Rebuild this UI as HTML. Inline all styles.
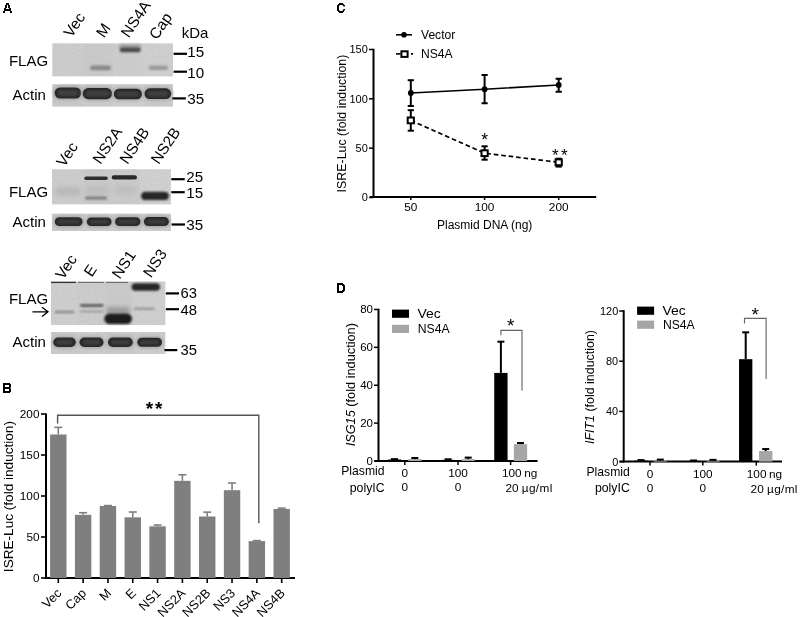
<!DOCTYPE html>
<html><head><meta charset="utf-8"><style>
html,body{margin:0;padding:0;background:#fff;}
svg{display:block;font-family:"Liberation Sans", sans-serif;will-change:transform;}
</style></head><body>
<svg width="800" height="617" viewBox="0 0 800 617">
<defs>
<filter id="b5" x="-20%" y="-50%" width="140%" height="200%"><feGaussianBlur stdDeviation="0.5"/></filter>
<filter id="b6" x="-20%" y="-50%" width="140%" height="200%"><feGaussianBlur stdDeviation="0.6"/></filter>
<filter id="b7" x="-20%" y="-50%" width="140%" height="200%"><feGaussianBlur stdDeviation="0.7"/></filter>
<filter id="b8" x="-20%" y="-50%" width="140%" height="200%"><feGaussianBlur stdDeviation="0.8"/></filter>
<filter id="b9" x="-20%" y="-50%" width="140%" height="200%"><feGaussianBlur stdDeviation="0.9"/></filter>
<filter id="b10" x="-20%" y="-50%" width="140%" height="200%"><feGaussianBlur stdDeviation="1.0"/></filter>
<filter id="b12" x="-20%" y="-50%" width="140%" height="200%"><feGaussianBlur stdDeviation="1.2"/></filter>
<filter id="b15" x="-20%" y="-50%" width="140%" height="200%"><feGaussianBlur stdDeviation="1.5"/></filter>
<filter id="b20" x="-30%" y="-80%" width="160%" height="260%"><feGaussianBlur stdDeviation="2.0"/></filter>
<filter id="b25" x="-30%" y="-80%" width="160%" height="260%"><feGaussianBlur stdDeviation="2.5"/></filter>
<filter id="noise" x="0" y="0" width="100%" height="100%">
<feTurbulence type="fractalNoise" baseFrequency="0.6" numOctaves="1" seed="5" result="t"/>
<feColorMatrix in="t" type="matrix" values="0 0 0 0 0  0 0 0 0 0  0 0 0 0 0  0 0 0 -0.12 0.07" result="n"/>
<feComposite in="n" in2="SourceGraphic" operator="in"/>
</filter>
</defs>
<path transform="translate(0 0)" fill="#000" fill-rule="evenodd" d="M6 3H9V5H10V8H11V11H12V13H10V11H5V13H3V11H4V8H5V5H6Z M7 5V8H6V9H9V8H8V5Z"/>
<path transform="translate(0 378)" fill="#000" fill-rule="evenodd" d="M3 5H10V6H11V9.3H10.4V10.4H11V14H10V15H3Z M5 7H9V9H5Z M5 11H9V13H5Z"/>
<path transform="translate(330 0)" fill="#000" fill-rule="evenodd" d="M9 3H13V4H14V5H15V6.6H13.3V5.6H12.5V5H9.5V6H9V10H9.5V11H12.5V10.3H13.3V9H15V10.6H14V12H13V13H9V12H8V11H7V5H8V4H9Z"/>
<path transform="translate(330 278)" fill="#000" fill-rule="evenodd" d="M7 5H13V6H14V7H15V13H14V14H13V15H7Z M9 7H12V8H13V12H12V13H9Z"/>
<rect x="52.5" y="43.6" width="120.5" height="32.6" fill="#cdcdcd"/>
<rect x="52.5" y="43.6" width="30.5" height="32.6" fill="#cdcdcd"/>
<rect x="83" y="43.6" width="30" height="32.6" fill="#cbcbcb"/>
<rect x="113" y="43.6" width="30" height="32.6" fill="#cecece"/>
<rect x="143" y="43.6" width="30" height="32.6" fill="#d0d0d0"/>
<rect x="52.5" y="43.6" width="120.5" height="32.6" fill="#000" filter="url(#noise)"/>
<rect x="119" y="44.5" width="22" height="4" rx="2.0" ry="2.0" fill="#9a9a9a" filter="url(#b15)"/>
<rect x="119.7" y="47.6" width="21" height="4.6" rx="2.3" ry="2.3" fill="#484848" filter="url(#b9)"/>
<rect x="90" y="65.6" width="21" height="4.6" rx="2.3" ry="2.3" fill="#888" filter="url(#b10)"/>
<rect x="148.6" y="65.6" width="19.5" height="4.4" rx="2.2" ry="2.2" fill="#9a9a9a" filter="url(#b10)"/>
<rect x="52.5" y="84.4" width="120.5" height="22.0" fill="#cdcdcd"/>
<rect x="52.5" y="84.4" width="29.5" height="22.0" fill="#c9c9c9"/>
<rect x="82" y="84.4" width="31" height="22.0" fill="#cccccc"/>
<rect x="113" y="84.4" width="30" height="22.0" fill="#cfcfcf"/>
<rect x="143" y="84.4" width="30" height="22.0" fill="#cbcbcb"/>
<rect x="52.5" y="84.4" width="120.5" height="22.0" fill="#000" filter="url(#noise)"/>
<rect x="53.1" y="86.0" width="29.6" height="14" rx="7.0" ry="7.0" fill="#a8a8a8" filter="url(#b15)"/>
<rect x="54.6" y="87.5" width="26.6" height="11" rx="5.5" ry="5.5" fill="#2a2a2a" filter="url(#b7)"/>
<rect x="57.6" y="90.1" width="20.6" height="5.8" rx="2.9" ry="2.9" fill="#3f3f3f" filter="url(#b10)"/>
<rect x="81.2" y="86.5" width="32.4" height="14.2" rx="7.1" ry="7.1" fill="#a8a8a8" filter="url(#b15)"/>
<rect x="82.7" y="88" width="29.4" height="11.2" rx="5.6" ry="5.6" fill="#2a2a2a" filter="url(#b7)"/>
<rect x="85.7" y="90.6" width="23.4" height="5.999999999999999" rx="2.9999999999999996" ry="2.9999999999999996" fill="#3f3f3f" filter="url(#b10)"/>
<rect x="112.3" y="87.3" width="31.2" height="13.4" rx="6.7" ry="6.7" fill="#a8a8a8" filter="url(#b15)"/>
<rect x="113.8" y="88.8" width="28.2" height="10.4" rx="5.2" ry="5.2" fill="#2a2a2a" filter="url(#b7)"/>
<rect x="116.8" y="91.39999999999999" width="22.2" height="5.2" rx="2.6" ry="2.6" fill="#3f3f3f" filter="url(#b10)"/>
<rect x="143.0" y="86.8" width="29.7" height="13.8" rx="6.9" ry="6.9" fill="#a8a8a8" filter="url(#b15)"/>
<rect x="144.5" y="88.3" width="26.7" height="10.8" rx="5.4" ry="5.4" fill="#2a2a2a" filter="url(#b7)"/>
<rect x="147.5" y="90.89999999999999" width="20.7" height="5.6000000000000005" rx="2.8000000000000003" ry="2.8000000000000003" fill="#3f3f3f" filter="url(#b10)"/>
<rect x="52" y="169.5" width="119" height="34.69999999999999" fill="#cdcdcd"/>
<rect x="52" y="169.5" width="31.599999999999994" height="34.69999999999999" fill="#cdcdcd"/>
<rect x="83.6" y="169.5" width="26.400000000000006" height="34.69999999999999" fill="#cacaca"/>
<rect x="110" y="169.5" width="29.80000000000001" height="34.69999999999999" fill="#cccccc"/>
<rect x="139.8" y="169.5" width="31.19999999999999" height="34.69999999999999" fill="#d1d1d1"/>
<rect x="52" y="169.5" width="119" height="34.69999999999999" fill="#000" filter="url(#noise)"/>
<rect x="55" y="187" width="26" height="9" rx="4.5" ry="4.5" fill="#b9b9b9" filter="url(#b25)"/>
<rect x="86" y="186" width="22" height="8" rx="4.0" ry="4.0" fill="#bdbdbd" filter="url(#b25)"/>
<rect x="114" y="186" width="22" height="8" rx="4.0" ry="4.0" fill="#bdbdbd" filter="url(#b25)"/>
<rect x="84.3" y="176.4" width="23.5" height="3.6" rx="1.8" ry="1.8" fill="#2e2e2e" filter="url(#b7)"/>
<rect x="111.7" y="175.3" width="25.3" height="4.2" rx="2.1" ry="2.1" fill="#2a2a2a" filter="url(#b7)"/>
<rect x="85" y="196.4" width="22" height="3.2" rx="1.6" ry="1.6" fill="#7a7a7a" filter="url(#b9)"/>
<rect x="141" y="191.8" width="28" height="8.3" rx="4.15" ry="4.15" fill="#262626" filter="url(#b9)"/>
<rect x="52" y="213.8" width="119" height="17.19999999999999" fill="#cdcdcd"/>
<rect x="52" y="213.8" width="32" height="17.19999999999999" fill="#cbcbcb"/>
<rect x="84" y="213.8" width="28.5" height="17.19999999999999" fill="#cdcdcd"/>
<rect x="112.5" y="213.8" width="29.0" height="17.19999999999999" fill="#cbcbcb"/>
<rect x="141.5" y="213.8" width="29.5" height="17.19999999999999" fill="#cecece"/>
<rect x="52" y="213.8" width="119" height="17.19999999999999" fill="#000" filter="url(#noise)"/>
<rect x="53.3" y="215.8" width="30.8" height="11.8" rx="5.9" ry="5.9" fill="#a8a8a8" filter="url(#b15)"/>
<rect x="54.8" y="217.3" width="27.8" height="8.8" rx="4.4" ry="4.4" fill="#2a2a2a" filter="url(#b7)"/>
<rect x="57.8" y="219.9" width="21.8" height="3.6000000000000005" rx="1.8000000000000003" ry="1.8000000000000003" fill="#3f3f3f" filter="url(#b10)"/>
<rect x="85.3" y="216.0" width="27.8" height="11.6" rx="5.8" ry="5.8" fill="#a8a8a8" filter="url(#b15)"/>
<rect x="86.8" y="217.5" width="24.8" height="8.6" rx="4.3" ry="4.3" fill="#2a2a2a" filter="url(#b7)"/>
<rect x="89.8" y="220.1" width="18.8" height="3.3999999999999995" rx="1.6999999999999997" ry="1.6999999999999997" fill="#3f3f3f" filter="url(#b10)"/>
<rect x="113.6" y="215.8" width="28.3" height="11.8" rx="5.9" ry="5.9" fill="#a8a8a8" filter="url(#b15)"/>
<rect x="115.1" y="217.3" width="25.3" height="8.8" rx="4.4" ry="4.4" fill="#2a2a2a" filter="url(#b7)"/>
<rect x="118.1" y="219.9" width="19.3" height="3.6000000000000005" rx="1.8000000000000003" ry="1.8000000000000003" fill="#3f3f3f" filter="url(#b10)"/>
<rect x="142.4" y="215.6" width="28" height="12" rx="6.0" ry="6.0" fill="#a8a8a8" filter="url(#b15)"/>
<rect x="143.9" y="217.1" width="25" height="9" rx="4.5" ry="4.5" fill="#2a2a2a" filter="url(#b7)"/>
<rect x="146.9" y="219.7" width="19" height="3.8" rx="1.9" ry="1.9" fill="#3f3f3f" filter="url(#b10)"/>
<rect x="51" y="281.7" width="114.19999999999999" height="43.30000000000001" fill="#cdcdcd"/>
<rect x="51" y="281.7" width="26" height="43.30000000000001" fill="#cfcfcf"/>
<rect x="77" y="281.7" width="29" height="43.30000000000001" fill="#cdcdcd"/>
<rect x="106" y="281.7" width="25" height="43.30000000000001" fill="#cbcbcb"/>
<rect x="131" y="281.7" width="34.19999999999999" height="43.30000000000001" fill="#d0d0d0"/>
<rect x="51" y="281.7" width="114.19999999999999" height="43.30000000000001" fill="#000" filter="url(#noise)"/>
<line x1="51" y1="282.4" x2="76" y2="282.4" stroke="#333" stroke-width="1.3"/>
<line x1="78" y1="282.4" x2="104" y2="282.4" stroke="#666" stroke-width="1.0"/>
<line x1="106" y1="282.4" x2="128" y2="282.4" stroke="#666" stroke-width="1.0"/>
<rect x="54.7" y="310.8" width="19.6" height="2.5" rx="1.25" ry="1.25" fill="#8a8a8a" filter="url(#b8)"/>
<rect x="80" y="304.1" width="23.5" height="2.8" rx="1.4" ry="1.4" fill="#606060" filter="url(#b8)"/>
<rect x="80" y="310.4" width="23.5" height="2.2" rx="1.1" ry="1.1" fill="#999" filter="url(#b8)"/>
<rect x="106" y="307" width="24" height="7" rx="3.5" ry="3.5" fill="#9a9a9a" filter="url(#b20)"/>
<rect x="104.3" y="313.4" width="27.7" height="10.6" rx="5.3" ry="5.3" fill="#1e1e1e" filter="url(#b9)"/>
<rect x="131.5" y="283.3" width="28.5" height="7.5" rx="3.75" ry="3.75" fill="#262626" filter="url(#b9)"/>
<rect x="133.8" y="307.4" width="21" height="2.6" rx="1.3" ry="1.3" fill="#999" filter="url(#b9)"/>
<rect x="51" y="332" width="114.19999999999999" height="22" fill="#cdcdcd"/>
<rect x="51" y="332" width="27" height="22" fill="#cbcbcb"/>
<rect x="78" y="332" width="28" height="22" fill="#cdcdcd"/>
<rect x="106" y="332" width="29" height="22" fill="#cacaca"/>
<rect x="135" y="332" width="30.19999999999999" height="22" fill="#cdcdcd"/>
<rect x="51" y="332" width="114.19999999999999" height="22" fill="#000" filter="url(#noise)"/>
<rect x="51.8" y="336.0" width="25.5" height="12.5" rx="6.25" ry="6.25" fill="#a8a8a8" filter="url(#b15)"/>
<rect x="53.3" y="337.5" width="22.5" height="9.5" rx="4.75" ry="4.75" fill="#2a2a2a" filter="url(#b7)"/>
<rect x="56.3" y="340.1" width="16.5" height="4.3" rx="2.15" ry="2.15" fill="#3f3f3f" filter="url(#b10)"/>
<rect x="78.0" y="336.0" width="27" height="12.5" rx="6.25" ry="6.25" fill="#a8a8a8" filter="url(#b15)"/>
<rect x="79.5" y="337.5" width="24" height="9.5" rx="4.75" ry="4.75" fill="#2a2a2a" filter="url(#b7)"/>
<rect x="82.5" y="340.1" width="18" height="4.3" rx="2.15" ry="2.15" fill="#3f3f3f" filter="url(#b10)"/>
<rect x="106.5" y="336.1" width="27.8" height="12.3" rx="6.15" ry="6.15" fill="#a8a8a8" filter="url(#b15)"/>
<rect x="108" y="337.6" width="24.8" height="9.3" rx="4.65" ry="4.65" fill="#2a2a2a" filter="url(#b7)"/>
<rect x="111" y="340.20000000000005" width="18.8" height="4.1000000000000005" rx="2.0500000000000003" ry="2.0500000000000003" fill="#3f3f3f" filter="url(#b10)"/>
<rect x="135.8" y="336.3" width="27.7" height="12" rx="6.0" ry="6.0" fill="#a8a8a8" filter="url(#b15)"/>
<rect x="137.3" y="337.8" width="24.7" height="9" rx="4.5" ry="4.5" fill="#2a2a2a" filter="url(#b7)"/>
<rect x="140.3" y="340.40000000000003" width="18.7" height="3.8" rx="1.9" ry="1.9" fill="#3f3f3f" filter="url(#b10)"/>
<text x="8.9" y="65.9" font-size="15" text-anchor="start" fill="#000">FLAG</text>
<text x="8.9" y="197.4" font-size="15" text-anchor="start" fill="#000">FLAG</text>
<text x="8.9" y="303.8" font-size="15" text-anchor="start" fill="#000">FLAG</text>
<text x="12.6" y="99.5" font-size="15" text-anchor="start" fill="#000">Actin</text>
<text x="12.6" y="227.4" font-size="15" text-anchor="start" fill="#000">Actin</text>
<text x="12.6" y="346.8" font-size="15" text-anchor="start" fill="#000">Actin</text>
<path d="M32.4 311.8 H48 M42 307.2 L48 311.8 L42 316.4" stroke="#000" stroke-width="1.3" fill="none"/>
<text x="181.7" y="38.2" font-size="15" text-anchor="start" fill="#000">kDa</text>
<line x1="173.6" y1="53.8" x2="187.0" y2="53.8" stroke="#000" stroke-width="2.2"/>
<text x="187.3" y="56.9" font-size="15.2" text-anchor="start" fill="#000">15</text>
<line x1="173.6" y1="71.7" x2="187.0" y2="71.7" stroke="#000" stroke-width="2.2"/>
<text x="187.3" y="78" font-size="15.2" text-anchor="start" fill="#000">10</text>
<line x1="172.4" y1="98.4" x2="185.8" y2="98.4" stroke="#000" stroke-width="2.2"/>
<text x="187.3" y="103.5" font-size="15.2" text-anchor="start" fill="#000">35</text>
<line x1="171.3" y1="179.2" x2="184.70000000000002" y2="179.2" stroke="#000" stroke-width="2.2"/>
<text x="186.2" y="182" font-size="15.2" text-anchor="start" fill="#000">25</text>
<line x1="171.3" y1="192.2" x2="184.70000000000002" y2="192.2" stroke="#000" stroke-width="2.2"/>
<text x="186.2" y="197.9" font-size="15.2" text-anchor="start" fill="#000">15</text>
<line x1="171.6" y1="224.5" x2="185.0" y2="224.5" stroke="#000" stroke-width="2.2"/>
<text x="186.2" y="230.2" font-size="15.2" text-anchor="start" fill="#000">35</text>
<line x1="165.8" y1="293.4" x2="179.0" y2="293.4" stroke="#000" stroke-width="2.2"/>
<text x="180.6" y="297.5" font-size="14.8" text-anchor="start" fill="#000">63</text>
<line x1="165.8" y1="309.2" x2="179.0" y2="309.2" stroke="#000" stroke-width="2.2"/>
<text x="180.6" y="315.3" font-size="14.8" text-anchor="start" fill="#000">48</text>
<line x1="164.5" y1="350.1" x2="177.3" y2="350.1" stroke="#000" stroke-width="2.2"/>
<text x="180.6" y="355" font-size="14.8" text-anchor="start" fill="#000">35</text>
<text x="71.6" y="38.2" font-size="15.3" text-anchor="start" transform="rotate(-56 71.6 38.2)" fill="#000">Vec</text>
<text x="104" y="38.4" font-size="15.3" text-anchor="start" transform="rotate(-56 104 38.4)" fill="#000">M</text>
<text x="128.8" y="38.4" font-size="15.3" text-anchor="start" transform="rotate(-56 128.8 38.4)" fill="#000">NS4A</text>
<text x="157" y="40.5" font-size="15.3" text-anchor="start" transform="rotate(-56 157 40.5)" fill="#000">Cap</text>
<text x="64.2" y="167.8" font-size="15.3" text-anchor="start" transform="rotate(-56 64.2 167.8)" fill="#000">Vec</text>
<text x="100.4" y="165" font-size="15.3" text-anchor="start" transform="rotate(-56 100.4 165)" fill="#000">NS2A</text>
<text x="127.6" y="165.1" font-size="15.3" text-anchor="start" transform="rotate(-56 127.6 165.1)" fill="#000">NS4B</text>
<text x="158.7" y="165.1" font-size="15.3" text-anchor="start" transform="rotate(-56 158.7 165.1)" fill="#000">NS2B</text>
<text x="63.3" y="280.3" font-size="15.3" text-anchor="start" transform="rotate(-56 63.3 280.3)" fill="#000">Vec</text>
<text x="91.7" y="277.7" font-size="15.3" text-anchor="start" transform="rotate(-56 91.7 277.7)" fill="#000">E</text>
<text x="119.8" y="279.7" font-size="15.3" text-anchor="start" transform="rotate(-56 119.8 279.7)" fill="#000">NS1</text>
<text x="150.9" y="278.4" font-size="15.3" text-anchor="start" transform="rotate(-56 150.9 278.4)" fill="#000">NS3</text>
<line x1="46" y1="413.6" x2="46" y2="579" stroke="#000" stroke-width="2"/>
<line x1="45" y1="578" x2="295" y2="578" stroke="#000" stroke-width="2"/>
<line x1="41" y1="578.0" x2="46" y2="578.0" stroke="#000" stroke-width="1.6"/>
<text x="39.5" y="582.2" font-size="11.8" text-anchor="end" fill="#000">0</text>
<line x1="41" y1="537.0" x2="46" y2="537.0" stroke="#000" stroke-width="1.6"/>
<text x="39.5" y="541.2" font-size="11.8" text-anchor="end" fill="#000">50</text>
<line x1="41" y1="496.0" x2="46" y2="496.0" stroke="#000" stroke-width="1.6"/>
<text x="39.5" y="500.2" font-size="11.8" text-anchor="end" fill="#000">100</text>
<line x1="41" y1="455.0" x2="46" y2="455.0" stroke="#000" stroke-width="1.6"/>
<text x="39.5" y="459.2" font-size="11.8" text-anchor="end" fill="#000">150</text>
<line x1="41" y1="414.0" x2="46" y2="414.0" stroke="#000" stroke-width="1.6"/>
<text x="39.5" y="418.2" font-size="11.8" text-anchor="end" fill="#000">200</text>
<rect x="50.099999999999994" y="434.5" width="16.4" height="143.5" fill="#7f7f7f"/>
<line x1="58.3" y1="427.366" x2="58.3" y2="434.5" stroke="#7f7f7f" stroke-width="1.6"/>
<line x1="54.3" y1="427.366" x2="62.3" y2="427.366" stroke="#7f7f7f" stroke-width="1.6"/>
<line x1="58.3" y1="578" x2="58.3" y2="583" stroke="#000" stroke-width="1.6"/>
<text x="62.3" y="594" font-size="12.8" text-anchor="end" transform="rotate(-45 62.3 594)" fill="#000">Vec</text>
<rect x="74.92" y="514.86" width="16.4" height="63.139999999999986" fill="#7f7f7f"/>
<line x1="83.12" y1="512.7280000000001" x2="83.12" y2="514.86" stroke="#7f7f7f" stroke-width="1.6"/>
<line x1="79.12" y1="512.7280000000001" x2="87.12" y2="512.7280000000001" stroke="#7f7f7f" stroke-width="1.6"/>
<line x1="83.12" y1="578" x2="83.12" y2="583" stroke="#000" stroke-width="1.6"/>
<text x="87.12" y="594" font-size="12.8" text-anchor="end" transform="rotate(-45 87.12 594)" fill="#000">Cap</text>
<rect x="99.74" y="506.004" width="16.4" height="71.99599999999998" fill="#7f7f7f"/>
<line x1="107.94" y1="505.594" x2="107.94" y2="506.004" stroke="#7f7f7f" stroke-width="1.6"/>
<line x1="103.94" y1="505.594" x2="111.94" y2="505.594" stroke="#7f7f7f" stroke-width="1.6"/>
<line x1="107.94" y1="578" x2="107.94" y2="583" stroke="#000" stroke-width="1.6"/>
<text x="111.94" y="594" font-size="12.8" text-anchor="end" transform="rotate(-45 111.94 594)" fill="#000">M</text>
<rect x="124.55999999999999" y="517.32" width="16.4" height="60.67999999999995" fill="#7f7f7f"/>
<line x1="132.76" y1="511.99" x2="132.76" y2="517.32" stroke="#7f7f7f" stroke-width="1.6"/>
<line x1="128.76" y1="511.99" x2="136.76" y2="511.99" stroke="#7f7f7f" stroke-width="1.6"/>
<line x1="132.76" y1="578" x2="132.76" y2="583" stroke="#000" stroke-width="1.6"/>
<text x="136.76" y="594" font-size="12.8" text-anchor="end" transform="rotate(-45 136.76 594)" fill="#000">E</text>
<rect x="149.38" y="526.34" width="16.4" height="51.65999999999997" fill="#7f7f7f"/>
<line x1="157.57999999999998" y1="525.028" x2="157.57999999999998" y2="526.34" stroke="#7f7f7f" stroke-width="1.6"/>
<line x1="153.57999999999998" y1="525.028" x2="161.57999999999998" y2="525.028" stroke="#7f7f7f" stroke-width="1.6"/>
<line x1="157.57999999999998" y1="578" x2="157.57999999999998" y2="583" stroke="#000" stroke-width="1.6"/>
<text x="161.57999999999998" y="594" font-size="12.8" text-anchor="end" transform="rotate(-45 161.57999999999998 594)" fill="#000">NS1</text>
<rect x="174.2" y="480.83000000000004" width="16.4" height="97.16999999999996" fill="#7f7f7f"/>
<line x1="182.39999999999998" y1="474.762" x2="182.39999999999998" y2="480.83000000000004" stroke="#7f7f7f" stroke-width="1.6"/>
<line x1="178.39999999999998" y1="474.762" x2="186.39999999999998" y2="474.762" stroke="#7f7f7f" stroke-width="1.6"/>
<line x1="182.39999999999998" y1="578" x2="182.39999999999998" y2="583" stroke="#000" stroke-width="1.6"/>
<text x="186.39999999999998" y="594" font-size="12.8" text-anchor="end" transform="rotate(-45 186.39999999999998 594)" fill="#000">NS2A</text>
<rect x="199.02000000000004" y="516.5" width="16.4" height="61.5" fill="#7f7f7f"/>
<line x1="207.22000000000003" y1="512.154" x2="207.22000000000003" y2="516.5" stroke="#7f7f7f" stroke-width="1.6"/>
<line x1="203.22000000000003" y1="512.154" x2="211.22000000000003" y2="512.154" stroke="#7f7f7f" stroke-width="1.6"/>
<line x1="207.22000000000003" y1="578" x2="207.22000000000003" y2="583" stroke="#000" stroke-width="1.6"/>
<text x="211.22000000000003" y="594" font-size="12.8" text-anchor="end" transform="rotate(-45 211.22000000000003 594)" fill="#000">NS2B</text>
<rect x="223.84000000000003" y="490.178" width="16.4" height="87.822" fill="#7f7f7f"/>
<line x1="232.04000000000002" y1="483.044" x2="232.04000000000002" y2="490.178" stroke="#7f7f7f" stroke-width="1.6"/>
<line x1="228.04000000000002" y1="483.044" x2="236.04000000000002" y2="483.044" stroke="#7f7f7f" stroke-width="1.6"/>
<line x1="232.04000000000002" y1="578" x2="232.04000000000002" y2="583" stroke="#000" stroke-width="1.6"/>
<text x="236.04000000000002" y="594" font-size="12.8" text-anchor="end" transform="rotate(-45 236.04000000000002 594)" fill="#000">NS3</text>
<rect x="248.66000000000003" y="541.1" width="16.4" height="36.89999999999998" fill="#7f7f7f"/>
<line x1="256.86" y1="540.608" x2="256.86" y2="541.1" stroke="#7f7f7f" stroke-width="1.6"/>
<line x1="252.86" y1="540.608" x2="260.86" y2="540.608" stroke="#7f7f7f" stroke-width="1.6"/>
<line x1="256.86" y1="578" x2="256.86" y2="583" stroke="#000" stroke-width="1.6"/>
<text x="260.86" y="594" font-size="12.8" text-anchor="end" transform="rotate(-45 260.86 594)" fill="#000">NS4A</text>
<rect x="273.48" y="508.956" width="16.4" height="69.04399999999998" fill="#7f7f7f"/>
<line x1="281.68" y1="508.13599999999997" x2="281.68" y2="508.956" stroke="#7f7f7f" stroke-width="1.6"/>
<line x1="277.68" y1="508.13599999999997" x2="285.68" y2="508.13599999999997" stroke="#7f7f7f" stroke-width="1.6"/>
<line x1="281.68" y1="578" x2="281.68" y2="583" stroke="#000" stroke-width="1.6"/>
<text x="285.68" y="594" font-size="12.8" text-anchor="end" transform="rotate(-45 285.68 594)" fill="#000">NS4B</text>
<path d="M57.6 423.6 V415.2 H258.8 V523.3" stroke="#555" stroke-width="1.4" fill="none"/>
<text x="149.4" y="415.4" font-size="19" text-anchor="middle" font-weight="bold" fill="#000">*</text>
<text x="158.7" y="415.4" font-size="19" text-anchor="middle" font-weight="bold" fill="#000">*</text>
<text x="13.3" y="496.6" font-size="13.6" text-anchor="middle" transform="rotate(-90 13.3 496.6)" fill="#000">ISRE-Luc (fold induction)</text>
<line x1="373.5" y1="48.8" x2="373.5" y2="198" stroke="#000" stroke-width="2"/>
<line x1="370" y1="197" x2="596.2" y2="197" stroke="#000" stroke-width="2"/>
<line x1="369" y1="197.5" x2="373.5" y2="197.5" stroke="#000" stroke-width="1.5"/>
<text x="367.8" y="201.4" font-size="11" text-anchor="end" fill="#000">0</text>
<line x1="369" y1="148.165" x2="373.5" y2="148.165" stroke="#000" stroke-width="1.5"/>
<text x="367.8" y="152.065" font-size="11" text-anchor="end" fill="#000">50</text>
<line x1="369" y1="98.83" x2="373.5" y2="98.83" stroke="#000" stroke-width="1.5"/>
<text x="367.8" y="102.73" font-size="11" text-anchor="end" fill="#000">100</text>
<line x1="369" y1="49.495000000000005" x2="373.5" y2="49.495000000000005" stroke="#000" stroke-width="1.5"/>
<text x="367.8" y="53.395" font-size="11" text-anchor="end" fill="#000">150</text>
<line x1="410.8" y1="197" x2="410.8" y2="200" stroke="#000" stroke-width="1.5"/>
<text x="410.8" y="210.8" font-size="11.8" text-anchor="middle" fill="#000">50</text>
<line x1="484.6" y1="197" x2="484.6" y2="200" stroke="#000" stroke-width="1.5"/>
<text x="484.6" y="210.8" font-size="11.8" text-anchor="middle" fill="#000">100</text>
<line x1="558.7" y1="197" x2="558.7" y2="200" stroke="#000" stroke-width="1.5"/>
<text x="558.7" y="210.8" font-size="11.8" text-anchor="middle" fill="#000">200</text>
<text x="484.7" y="228.5" font-size="12" text-anchor="middle" fill="#000">Plasmid DNA (ng)</text>
<text x="345.8" y="123.5" font-size="12.4" text-anchor="middle" transform="rotate(-90 345.8 123.5)" fill="#000">ISRE-Luc (fold induction)</text>
<polyline points="410.8,93 484.6,89.25 558.7,85" stroke="#000" stroke-width="1.6" fill="none"/>
<polyline points="410.8,120.4 484.6,153.2 558.7,162.3" stroke="#000" stroke-width="1.7" stroke-dasharray="4.6,2.9" fill="none"/>
<line x1="410.8" y1="80.2" x2="410.8" y2="106" stroke="#000" stroke-width="2"/>
<line x1="407.7" y1="80.2" x2="413.90000000000003" y2="80.2" stroke="#000" stroke-width="2"/>
<line x1="407.7" y1="106" x2="413.90000000000003" y2="106" stroke="#000" stroke-width="2"/>
<line x1="484.6" y1="75" x2="484.6" y2="103.25" stroke="#000" stroke-width="2"/>
<line x1="481.5" y1="75" x2="487.70000000000005" y2="75" stroke="#000" stroke-width="2"/>
<line x1="481.5" y1="103.25" x2="487.70000000000005" y2="103.25" stroke="#000" stroke-width="2"/>
<line x1="558.7" y1="78.75" x2="558.7" y2="91.75" stroke="#000" stroke-width="2"/>
<line x1="555.6" y1="78.75" x2="561.8000000000001" y2="78.75" stroke="#000" stroke-width="2"/>
<line x1="555.6" y1="91.75" x2="561.8000000000001" y2="91.75" stroke="#000" stroke-width="2"/>
<line x1="410.8" y1="110.2" x2="410.8" y2="130.7" stroke="#000" stroke-width="2"/>
<line x1="407.7" y1="110.2" x2="413.90000000000003" y2="110.2" stroke="#000" stroke-width="2"/>
<line x1="407.7" y1="130.7" x2="413.90000000000003" y2="130.7" stroke="#000" stroke-width="2"/>
<line x1="484.6" y1="146.3" x2="484.6" y2="159.7" stroke="#000" stroke-width="2"/>
<line x1="481.5" y1="146.3" x2="487.70000000000005" y2="146.3" stroke="#000" stroke-width="2"/>
<line x1="481.5" y1="159.7" x2="487.70000000000005" y2="159.7" stroke="#000" stroke-width="2"/>
<line x1="558.7" y1="158.7" x2="558.7" y2="166.6" stroke="#000" stroke-width="2"/>
<line x1="555.6" y1="158.7" x2="561.8000000000001" y2="158.7" stroke="#000" stroke-width="2"/>
<line x1="555.6" y1="166.6" x2="561.8000000000001" y2="166.6" stroke="#000" stroke-width="2"/>
<circle cx="410.8" cy="93" r="2.9" fill="#000"/>
<circle cx="484.6" cy="89.25" r="2.9" fill="#000"/>
<circle cx="558.7" cy="85" r="2.9" fill="#000"/>
<rect x="407.7" y="117.5" width="6.2" height="5.8" fill="#fff" stroke="#000" stroke-width="2"/>
<rect x="481.5" y="150.29999999999998" width="6.2" height="5.8" fill="#fff" stroke="#000" stroke-width="2"/>
<rect x="555.6" y="159.4" width="6.2" height="5.8" fill="#fff" stroke="#000" stroke-width="2"/>
<text x="484.6" y="146" font-size="17.5" text-anchor="middle" fill="#000">*</text>
<text x="555.2" y="161.3" font-size="17" text-anchor="middle" fill="#000">*</text>
<text x="564.4" y="161.3" font-size="17" text-anchor="middle" fill="#000">*</text>
<line x1="396.1" y1="34.8" x2="411.9" y2="34.8" stroke="#000" stroke-width="1.6"/>
<circle cx="404" cy="34.8" r="2.8" fill="#000"/>
<text x="421" y="38.8" font-size="12.1" text-anchor="start" fill="#000">Vector</text>
<line x1="396" y1="53.9" x2="400.5" y2="53.9" stroke="#000" stroke-width="1.6"/>
<line x1="411" y1="53.9" x2="413" y2="53.9" stroke="#000" stroke-width="1.6"/>
<rect x="401.4" y="51.3" width="6.2" height="5.6" fill="#fff" stroke="#000" stroke-width="2"/>
<text x="421" y="57.6" font-size="12.1" text-anchor="start" fill="#000">NS4A</text>
<line x1="378.5" y1="308.68" x2="378.5" y2="462" stroke="#000" stroke-width="2"/>
<line x1="374.5" y1="461" x2="537.6" y2="461" stroke="#000" stroke-width="2"/>
<line x1="374.0" y1="461.0" x2="378.5" y2="461.0" stroke="#000" stroke-width="1.5"/>
<text x="373.0" y="465.0" font-size="11.5" text-anchor="end" fill="#000">0</text>
<line x1="374.0" y1="423.12" x2="378.5" y2="423.12" stroke="#000" stroke-width="1.5"/>
<text x="373.0" y="427.12" font-size="11.5" text-anchor="end" fill="#000">20</text>
<line x1="374.0" y1="385.24" x2="378.5" y2="385.24" stroke="#000" stroke-width="1.5"/>
<text x="373.0" y="389.24" font-size="11.5" text-anchor="end" fill="#000">40</text>
<line x1="374.0" y1="347.36" x2="378.5" y2="347.36" stroke="#000" stroke-width="1.5"/>
<text x="373.0" y="351.36" font-size="11.5" text-anchor="end" fill="#000">60</text>
<line x1="374.0" y1="309.48" x2="378.5" y2="309.48" stroke="#000" stroke-width="1.5"/>
<text x="373.0" y="313.48" font-size="11.5" text-anchor="end" fill="#000">80</text>
<rect x="387.85" y="459.4848" width="13.3" height="1.515199999999993" fill="#000"/>
<line x1="394.5" y1="459.106" x2="394.5" y2="459.4848" stroke="#000" stroke-width="2"/>
<line x1="391.0" y1="459.106" x2="398.0" y2="459.106" stroke="#000" stroke-width="2"/>
<rect x="408.15000000000003" y="459.106" width="13.3" height="1.8940000000000055" fill="#a6a6a6"/>
<line x1="414.8" y1="457.9696" x2="414.8" y2="459.106" stroke="#000" stroke-width="2"/>
<line x1="411.3" y1="457.9696" x2="418.3" y2="457.9696" stroke="#000" stroke-width="2"/>
<rect x="441.45000000000005" y="459.8636" width="13.3" height="1.1363999999999805" fill="#000"/>
<line x1="448.1" y1="459.2954" x2="448.1" y2="459.8636" stroke="#000" stroke-width="2"/>
<line x1="444.6" y1="459.2954" x2="451.6" y2="459.2954" stroke="#000" stroke-width="2"/>
<rect x="461.55" y="459.106" width="13.3" height="1.8940000000000055" fill="#a6a6a6"/>
<line x1="468.2" y1="457.5908" x2="468.2" y2="459.106" stroke="#000" stroke-width="2"/>
<line x1="464.7" y1="457.5908" x2="471.7" y2="457.5908" stroke="#000" stroke-width="2"/>
<rect x="494.25" y="372.929" width="13.3" height="88.07100000000003" fill="#000"/>
<line x1="500.9" y1="341.678" x2="500.9" y2="372.929" stroke="#000" stroke-width="2"/>
<line x1="497.4" y1="341.678" x2="504.4" y2="341.678" stroke="#000" stroke-width="2"/>
<rect x="513.85" y="444.1434" width="13.3" height="16.856600000000014" fill="#a6a6a6"/>
<line x1="520.5" y1="443.007" x2="520.5" y2="444.1434" stroke="#000" stroke-width="2"/>
<line x1="517.0" y1="443.007" x2="524.0" y2="443.007" stroke="#000" stroke-width="2"/>
<line x1="404.8" y1="461" x2="404.8" y2="465" stroke="#000" stroke-width="1.5"/>
<line x1="458" y1="461" x2="458" y2="465" stroke="#000" stroke-width="1.5"/>
<line x1="510.6" y1="461" x2="510.6" y2="465" stroke="#000" stroke-width="1.5"/>
<path d="M500.9 335.3 V330.3 H522 V390.4" stroke="#666" stroke-width="1.15" fill="none"/>
<text x="510.6" y="332.3" font-size="19" text-anchor="middle" fill="#000">*</text>
<rect x="392" y="309.6" width="17" height="8.2" fill="#000"/>
<rect x="392" y="324.8" width="17" height="8.2" fill="#a6a6a6"/>
<text x="417.5" y="317.90000000000003" font-size="12.3" text-anchor="start" fill="#000" textLength="23.2" lengthAdjust="spacingAndGlyphs">Vec</text>
<text x="417.8" y="333.1" font-size="12.2" text-anchor="start" fill="#000">NS4A</text>
<text x="355.2" y="384.7" font-size="12.75" text-anchor="middle" transform="rotate(-90 355.2 384.7)" fill="#000"><tspan font-style="italic">ISG15</tspan> (fold induction)</text>
<text x="384.6" y="475.2" font-size="12.2" text-anchor="end" fill="#000">Plasmid</text>
<text x="384.6" y="491.7" font-size="12.3" text-anchor="end" fill="#000">polyIC</text>
<text x="404.8" y="477.1" font-size="11.8" text-anchor="middle" fill="#000">0</text>
<text x="458" y="477.1" font-size="11.8" text-anchor="middle" fill="#000">100</text>
<text x="502" y="477.1" font-size="11.8" text-anchor="start" fill="#000" word-spacing="-0.8">100 ng</text>
<text x="404.8" y="491.4" font-size="11.8" text-anchor="middle" fill="#000">0</text>
<text x="458" y="491.4" font-size="11.8" text-anchor="middle" fill="#000">0</text>
<text x="505.4" y="492.4" font-size="11.8" text-anchor="start" fill="#000">20 <tspan letter-spacing="0.35">µg/ml</tspan></text>
<line x1="623.7" y1="310.2" x2="623.7" y2="462.6" stroke="#000" stroke-width="2"/>
<line x1="619.7" y1="461.6" x2="782" y2="461.6" stroke="#000" stroke-width="2"/>
<line x1="619.2" y1="461.6" x2="623.7" y2="461.6" stroke="#000" stroke-width="1.5"/>
<text x="618.2" y="465.6" font-size="10.9" text-anchor="end" fill="#000">0</text>
<line x1="619.2" y1="411.40000000000003" x2="623.7" y2="411.40000000000003" stroke="#000" stroke-width="1.5"/>
<text x="618.2" y="415.40000000000003" font-size="10.9" text-anchor="end" fill="#000">40</text>
<line x1="619.2" y1="361.20000000000005" x2="623.7" y2="361.20000000000005" stroke="#000" stroke-width="1.5"/>
<text x="618.2" y="365.20000000000005" font-size="10.9" text-anchor="end" fill="#000">80</text>
<line x1="619.2" y1="311.0" x2="623.7" y2="311.0" stroke="#000" stroke-width="1.5"/>
<text x="618.2" y="315.0" font-size="10.9" text-anchor="end" fill="#000">120</text>
<rect x="634.35" y="460.596" width="13.3" height="1.004000000000019" fill="#000"/>
<line x1="641" y1="460.09400000000005" x2="641" y2="460.596" stroke="#000" stroke-width="2"/>
<line x1="637.5" y1="460.09400000000005" x2="644.5" y2="460.09400000000005" stroke="#000" stroke-width="2"/>
<rect x="653.65" y="460.596" width="13.3" height="1.004000000000019" fill="#a6a6a6"/>
<line x1="660.3" y1="459.59200000000004" x2="660.3" y2="460.596" stroke="#000" stroke-width="2"/>
<line x1="656.8" y1="459.59200000000004" x2="663.8" y2="459.59200000000004" stroke="#000" stroke-width="2"/>
<rect x="686.95" y="460.84700000000004" width="13.3" height="0.7529999999999859" fill="#000"/>
<line x1="693.6" y1="460.4705" x2="693.6" y2="460.84700000000004" stroke="#000" stroke-width="2"/>
<line x1="690.1" y1="460.4705" x2="697.1" y2="460.4705" stroke="#000" stroke-width="2"/>
<rect x="706.35" y="460.596" width="13.3" height="1.004000000000019" fill="#a6a6a6"/>
<line x1="713" y1="459.843" x2="713" y2="460.596" stroke="#000" stroke-width="2"/>
<line x1="709.5" y1="459.843" x2="716.5" y2="459.843" stroke="#000" stroke-width="2"/>
<rect x="739.0500000000001" y="359.192" width="13.3" height="102.40800000000002" fill="#000"/>
<line x1="745.7" y1="332.33500000000004" x2="745.7" y2="359.192" stroke="#000" stroke-width="2"/>
<line x1="742.2" y1="332.33500000000004" x2="749.2" y2="332.33500000000004" stroke="#000" stroke-width="2"/>
<rect x="759.0500000000001" y="451.05800000000005" width="13.3" height="10.541999999999973" fill="#a6a6a6"/>
<line x1="765.7" y1="449.05" x2="765.7" y2="451.05800000000005" stroke="#000" stroke-width="2"/>
<line x1="762.2" y1="449.05" x2="769.2" y2="449.05" stroke="#000" stroke-width="2"/>
<line x1="650" y1="461.6" x2="650" y2="465.6" stroke="#000" stroke-width="1.5"/>
<line x1="702.8" y1="461.6" x2="702.8" y2="465.6" stroke="#000" stroke-width="1.5"/>
<line x1="756.3" y1="461.6" x2="756.3" y2="465.6" stroke="#000" stroke-width="1.5"/>
<path d="M744.5 323.6 V318.3 H766.1 V379" stroke="#666" stroke-width="1.15" fill="none"/>
<text x="755.3" y="321" font-size="19" text-anchor="middle" fill="#000">*</text>
<rect x="637.1" y="306.6" width="17" height="8.2" fill="#000"/>
<rect x="637.1" y="320.6" width="17" height="8.2" fill="#a6a6a6"/>
<text x="662.6" y="314.90000000000003" font-size="12.3" text-anchor="start" fill="#000" textLength="23.2" lengthAdjust="spacingAndGlyphs">Vec</text>
<text x="662.9" y="328.90000000000003" font-size="12.2" text-anchor="start" fill="#000">NS4A</text>
<text x="593.8" y="387" font-size="12.45" text-anchor="middle" transform="rotate(-90 593.8 387)" fill="#000"><tspan font-style="italic">IFIT1</tspan> (fold induction)</text>
<text x="629.8" y="475.8" font-size="12.2" text-anchor="end" fill="#000">Plasmid</text>
<text x="629.8" y="492.3" font-size="12.3" text-anchor="end" fill="#000">polyIC</text>
<text x="650" y="477.70000000000005" font-size="11.8" text-anchor="middle" fill="#000">0</text>
<text x="702.8" y="477.70000000000005" font-size="11.8" text-anchor="middle" fill="#000">100</text>
<text x="746.8" y="477.70000000000005" font-size="11.8" text-anchor="start" fill="#000" word-spacing="-0.8">100 ng</text>
<text x="650" y="492.0" font-size="11.8" text-anchor="middle" fill="#000">0</text>
<text x="702.8" y="492.0" font-size="11.8" text-anchor="middle" fill="#000">0</text>
<text x="750.6" y="493.48" font-size="11.8" text-anchor="start" fill="#000">20 <tspan letter-spacing="0.35">µg/ml</tspan></text>
</svg>
</body></html>
